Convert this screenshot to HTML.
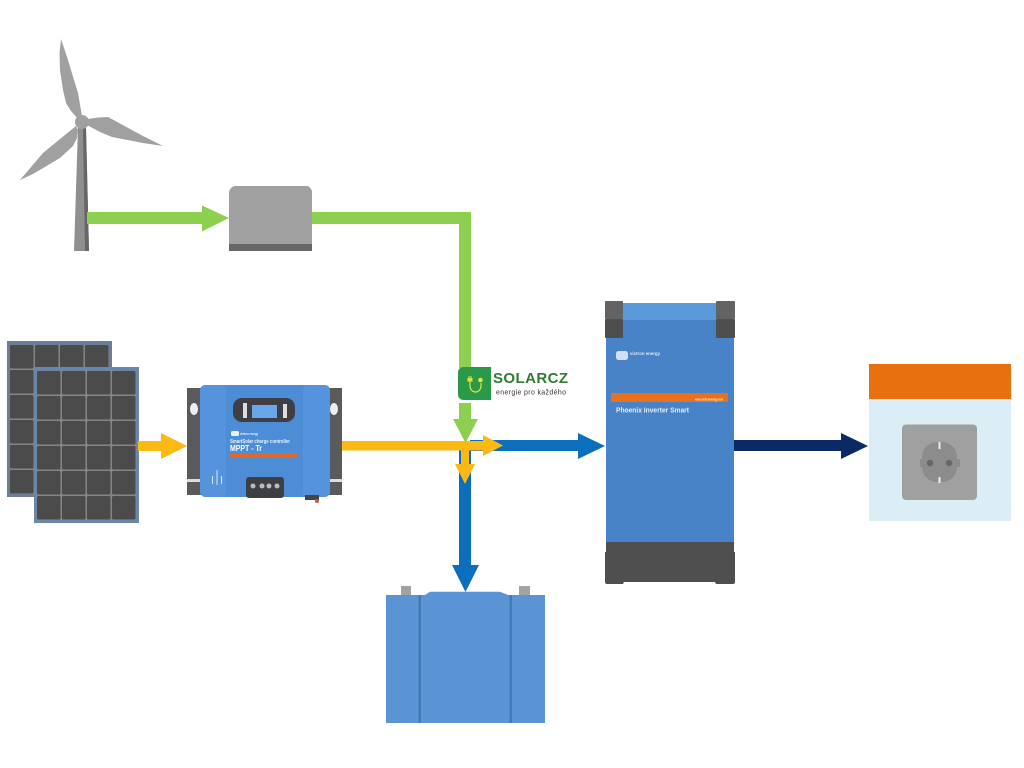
<!DOCTYPE html>
<html lang="cs">
<head>
<meta charset="utf-8">
<title>Solar and wind system diagram</title>
<style>
html,body{margin:0;padding:0;background:#fff;width:1024px;height:768px;overflow:hidden}
svg{display:block}
text{font-family:"Liberation Sans",sans-serif}
</style>
</head>
<body>
<svg width="1024" height="768" viewBox="0 0 1024 768" xmlns="http://www.w3.org/2000/svg">
<defs>
<pattern id="cells2" x="37" y="371" width="25" height="25" patternUnits="userSpaceOnUse">
<rect width="25" height="25" fill="#858585"/>
<rect x="0" y="0" width="23.500" height="23.500" rx="1.500" fill="#4b4b4b"/>
</pattern>
<pattern id="cells1" x="10" y="345" width="25" height="25" patternUnits="userSpaceOnUse">
<rect width="25" height="25" fill="#858585"/>
<rect x="0" y="0" width="23.500" height="23.500" rx="1.500" fill="#4b4b4b"/>
</pattern>
</defs>

<!-- Wind turbine -->
<polygon points="78,128 86,128 89,251 74,251" fill="#8f8f8f"/>
<polygon points="83,128 86,128 89,251 85,251" fill="#666"/>
<polygon points="61,39 59.500,53 60,70 63,90 66,103 71,111 78,119 82,116 78,93 74,80 68,60" fill="#a0a0a0"/>
<polygon points="163,146 143,136 108,117 98,117.500 88,119 87,125 100,132 112,137 143,143" fill="#a0a0a0"/>
<polygon points="20,180 43,153 60,139 76,126 78,130 77,138 73,146 60,158 33,174" fill="#a0a0a0"/>
<circle cx="82" cy="122" r="7" fill="#a0a0a0"/>

<!-- Wind line and arrow -->
<rect x="87" y="212" width="116" height="12" fill="#8dd04f"/>
<polygon points="202,205.500 229,218 202,231.500" fill="#8dd04f"/>

<!-- Rectifier box -->
<path d="M235,186 H307 Q310,186 312,191 V251 H229 V192 Q230,187 235,186Z" fill="#a0a0a0"/>
<rect x="229" y="244" width="83" height="7" fill="#666"/>

<!-- Green path down -->
<polyline points="312,218 465,218 465,368" fill="none" stroke="#8dd04f" stroke-width="12"/>
<rect x="459" y="403" width="12" height="17" fill="#8dd04f"/>

<!-- Solar panels -->
<rect x="7" y="341" width="105" height="156" fill="#6c7d96"/>
<rect x="10" y="345" width="99" height="149" fill="url(#cells1)"/>
<rect x="34" y="367" width="105" height="156" fill="#6c86a8"/>
<rect x="37" y="371" width="99" height="149" fill="url(#cells2)"/>

<!-- Yellow left arrow -->
<rect x="138" y="441" width="24" height="10" fill="#fdb913"/>
<polygon points="161,433 187,446 161,459" fill="#fdb913"/>

<!-- MPPT -->
<rect x="187" y="388" width="15" height="107" fill="#5a5a5a"/>
<rect x="329" y="388" width="13" height="107" fill="#5a5a5a"/>
<ellipse cx="194" cy="409" rx="4" ry="6" fill="#eee"/>
<ellipse cx="334" cy="409" rx="4" ry="6" fill="#eee"/>
<rect x="187" y="479" width="14" height="3" fill="#ddd"/>
<rect x="329" y="479" width="13" height="3" fill="#ddd"/>
<rect x="200" y="385" width="130" height="112" rx="6" fill="#4c8dd6"/>
<rect x="200" y="385" width="26" height="112" rx="5" fill="#5594dc"/>
<rect x="303" y="385" width="27" height="112" rx="5" fill="#5594dc"/>
<rect x="233" y="398" width="62" height="24" rx="9" fill="#3d3f45"/>
<rect x="252" y="405" width="25" height="13" fill="#6aa7ea"/>
<rect x="243" y="403" width="4" height="15" fill="#ddd"/>
<rect x="283" y="404" width="4" height="14" fill="#ddd"/>
<rect x="231" y="431" width="8" height="5" rx="1.500" fill="#e8f0fa"/>
<text x="240" y="435" font-size="3.500" font-weight="bold" fill="#e8f0fa" textLength="18" lengthAdjust="spacingAndGlyphs">victron energy</text>
<text x="230" y="443" font-size="5" font-weight="bold" fill="#e8f0fa" textLength="60" lengthAdjust="spacingAndGlyphs">SmartSolar charge controller</text>
<text x="230" y="451" font-size="8" font-weight="bold" fill="#fff" textLength="32" lengthAdjust="spacingAndGlyphs">MPPT - Tr</text>
<rect x="230" y="453" width="68" height="4.500" fill="#e2682a"/>
<rect x="212" y="476" width="1" height="8" fill="#d7e6f6"/>
<rect x="216.500" y="470" width="1" height="15" fill="#d7e6f6"/>
<rect x="221" y="476" width="1" height="8" fill="#d7e6f6"/>
<rect x="246" y="477" width="38" height="21" rx="3" fill="#3d3f45"/>
<circle cx="253" cy="486" r="2.500" fill="#bbb"/>
<circle cx="262" cy="486" r="2.500" fill="#bbb"/>
<circle cx="269" cy="486" r="2.500" fill="#bbb"/>
<circle cx="277" cy="486" r="2.500" fill="#bbb"/>
<rect x="305" y="495" width="14" height="5" fill="#444"/>
<circle cx="317" cy="501" r="2" fill="#c0603a"/>

<!-- Blue bus -->
<rect x="470" y="440" width="110" height="11" fill="#0b6fbe"/>
<polygon points="578,433 605,446 578,459" fill="#0b6fbe"/>
<rect x="459" y="445" width="12" height="122" fill="#0b6fbe"/>
<polygon points="452,565 479,565 465.500,592" fill="#0b6fbe"/>

<!-- Yellow line -->
<rect x="342" y="441" width="142" height="9.500" fill="#fdb913"/>
<polygon points="483,435 503,445.500 483,456" fill="#fdb913"/>
<rect x="461" y="450" width="8" height="15" fill="#fdb913"/>
<polygon points="455,464 475,464 465,484" fill="#fdb913"/>

<!-- Green arrowhead over -->
<polygon points="453,419 478,419 465.500,443" fill="#8dd04f"/>

<!-- Logo -->
<path d="M464,367 H491 V400 H464 Q458,400 458,394 V373 Q458,367 464,367Z" fill="#2a9a48"/>
<path d="M470,381 V386 A5.500,6 0 0 0 481,386 V383" fill="none" stroke="#dfe33f" stroke-width="1.200"/>
<rect x="467.500" y="378" width="5" height="3.500" fill="#dfe33f"/>
<rect x="468.500" y="376" width="1" height="2" fill="#dfe33f"/>
<rect x="470.500" y="376" width="1" height="2" fill="#dfe33f"/>
<circle cx="480.500" cy="380" r="2.300" fill="#dfe33f"/>
<text x="493" y="383" font-size="15" font-weight="bold" fill="#2e7d32" textLength="75" lengthAdjust="spacing">SOLARCZ</text>
<text x="496" y="394.500" font-size="7" fill="#333" textLength="70" lengthAdjust="spacing">energie pro každého</text>

<!-- Inverter -->
<rect x="606" y="303" width="128" height="240" fill="#4783c6"/>
<rect x="606" y="303" width="128" height="17" fill="#5a99da"/>
<rect x="605" y="301" width="18" height="18" rx="1" fill="#636363"/>
<rect x="605" y="319" width="18" height="19" rx="1" fill="#4e4e4e"/>
<rect x="716" y="301" width="19" height="18" rx="1" fill="#636363"/>
<rect x="716" y="319" width="19" height="19" rx="1" fill="#4e4e4e"/>
<rect x="616" y="351" width="12" height="9" rx="2.500" fill="#cfe0f2"/>
<text x="630" y="355" font-size="4.800" font-weight="bold" fill="#dce8f5" textLength="30" lengthAdjust="spacingAndGlyphs">victron energy</text>
<rect x="611" y="393" width="117" height="9" rx="1" fill="#e9701d"/>
<text x="695" y="400.500" font-size="3.500" font-weight="bold" fill="#fde9d8" textLength="28" lengthAdjust="spacingAndGlyphs">www.victronenergy.com</text>
<text x="616" y="412.500" font-size="7.500" font-weight="bold" fill="#e6eff9" textLength="73" lengthAdjust="spacingAndGlyphs">Phoenix Inverter Smart</text>
<rect x="606" y="542" width="128" height="12" fill="#4f4f4f"/>
<path d="M605,552 H735 V582 Q735,584 733,584 H716 L715,582 H624 L623,584 H607 Q605,584 605,582Z" fill="#4f4f4f"/>

<!-- Navy arrow -->
<rect x="734" y="440" width="108" height="11" fill="#0a2a66"/>
<polygon points="841,433 868,446 841,459" fill="#0a2a66"/>

<!-- AC outlet -->
<rect x="869" y="399" width="142" height="122" fill="#dceef5"/>
<rect x="869" y="364" width="142" height="35" fill="#e9700f"/>
<rect x="902" y="424.500" width="75" height="75.500" rx="4" fill="#a0a0a0"/>
<rect x="920" y="459" width="40" height="8" rx="1" fill="#8c8c8c"/>
<rect x="922" y="442" width="35" height="40" rx="15" fill="#8c8c8c"/>
<circle cx="930" cy="463" r="3.200" fill="#666"/>
<circle cx="949" cy="463" r="3.200" fill="#666"/>
<rect x="938.500" y="442" width="2" height="7" fill="#eee"/>
<rect x="938.500" y="477" width="2" height="6" fill="#eee"/>

<!-- Battery -->
<rect x="401" y="586" width="10" height="9" fill="#a3a3a3"/>
<rect x="519" y="586" width="11" height="9" fill="#a3a3a3"/>
<path d="M386,595 H425 L430,591.700 H500 L508,595 H545 V723 H386Z" fill="#5a94d4"/>
<rect x="418.500" y="595" width="2.500" height="128" fill="#4478b8"/>
<rect x="509.500" y="595" width="2.500" height="128" fill="#4478b8"/>
</svg>
</body>
</html>
